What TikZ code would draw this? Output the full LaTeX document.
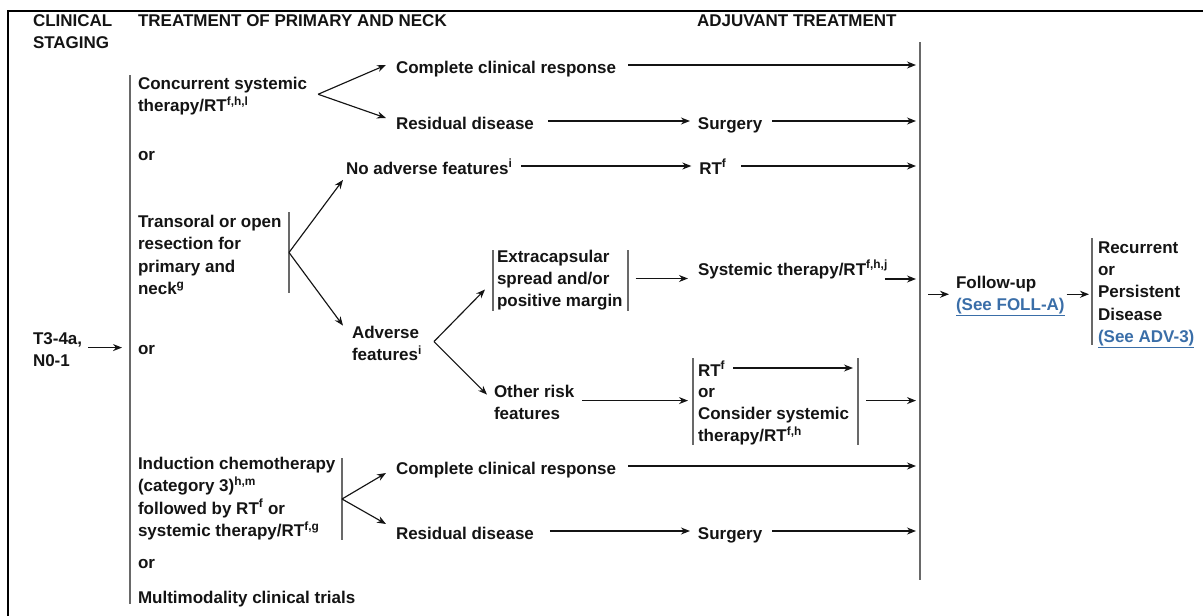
\documentclass[tikz,border=0pt]{standalone}
\usepackage{fontspec}
\setmainfont{Liberation Sans}
\usepackage{tikz}
\definecolor{bargray}{RGB}{105,105,105}
\definecolor{seeblue}{RGB}{58,110,168}
\definecolor{inkblack}{RGB}{20,20,20}
\usetikzlibrary{positioning}
\usetikzlibrary{calc}
\usetikzlibrary{arrows.meta}
\tikzset{bar/.style={draw=bargray,line width=1.5pt}}
\newcommand{\seeRef}[1]{\textcolor{seeblue}{\underline{#1}}}
\newcommand{\topStrut}{\rule{0pt}{15.4pt}}

\begin{document}
\begin{tikzpicture}[x=1pt,y=-1pt,
  myText/.style={inner sep=0pt,outer sep=0pt,text=inkblack,
    font=\bfseries\fontsize{17}{22.4}\selectfont},
  myLine/.style={myText,anchor=west,execute at begin node={\rule[-3.8pt]{0pt}{23.8pt}}},
  myBlock/.style={myText,anchor=north west,align=left},
  myLink/.style={->,>={Stealth[length=9pt,width=7pt]},line width=1.15pt,draw=inkblack}]
	\useasboundingbox (0,0) rectangle (1203,616);
	\draw[line width=2.6pt,line join=miter] (1203,11) -- (8,11) -- (8,616);
	\node[myBlock] (hdStage) at (33,10.6) {\topStrut CLINICAL\\STAGING};
	\node[myLine] (hdTreat) at (138,18) {TREATMENT OF PRIMARY AND NECK};
	\node[myLine] (hdAdj) at (697,18) {ADJUVANT TREATMENT};
	\node[myBlock] (t3) at (33,328.6) {\topStrut T3-4a,\\N0-1};
	\node[myBlock] (conc) at (138,73.6) {\topStrut Concurrent systemic\\therapy/RT\textsuperscript{f,h,l}};
	\node[myLine] (or1) at (138,152) {or};
	\node[myBlock] (trans) at (138,212) {\topStrut Transoral or open\\resection for\\primary and\\neck\textsuperscript{g}};
	\node[myLine] (or2) at (138,346) {or};
	\node[myBlock] (induc) at (138,454) {\topStrut Induction chemotherapy\\(category 3)\textsuperscript{h,m}\\followed by RT\textsuperscript{f} or\\systemic therapy/RT\textsuperscript{f,g}};
	\node[myLine] (or3) at (138,560) {or};
	\node[myLine] (trials) at (138,595) {Multimodality clinical trials};
	\node[myLine] (ccrA) at (396,65) {Complete clinical response};
	\node[myLine] (resA) at (396,121) {Residual disease};
	\node[myLine,right=164pt of resA] (surgA) {Surgery};
	\node[myLine] (noAdv) at (346,166) {No adverse features\textsuperscript{i}};
	\node[myLine,right=187pt of noAdv] (rtA) {RT\textsuperscript{f}};
	\node[myBlock] (adv) at (352,322.6) {\topStrut Adverse\\features\textsuperscript{i}};
	\node[myBlock] (extra) at (497,246.6) {\topStrut Extracapsular\\spread and/or\\positive margin};
	\node[myLine] (sysRT) at (698,267) {Systemic therapy/RT\textsuperscript{f,h,j}};
	\node[myBlock] (other) at (494,381.6) {\topStrut Other risk\\features};
	\node[myLine] (rtB) at (698,368) {RT\textsuperscript{f}};
	\node[myBlock] (consid) at (698,381.6) {\topStrut or\\Consider systemic\\therapy/RT\textsuperscript{f,h}};
	\node[myLine] (ccrB) at (396,466) {Complete clinical response};
	\node[myLine] (resB) at (396,531) {Residual disease};
	\node[myLine,right=164pt of resB] (surgB) {Surgery};
	\node[myBlock] (follow) at (956,272.6) {\topStrut Follow-up\\\seeRef{(See FOLL-A)}};
	\node[myBlock] (recur) at (1098,237.6) {\topStrut Recurrent\\or\\Persistent\\Disease\\\seeRef{(See ADV-3)}};
	\coordinate (optTop) at (130,75);
	\coordinate (optBot) at (130,604);
	\coordinate (transTop) at (289,212);
	\coordinate (transBot) at (289,293);
	\coordinate (inducTop) at (342,458);
	\coordinate (inducBot) at (342,540);
	\coordinate (extraL) at (493,250);
	\coordinate (extraR) at (628,250);
	\coordinate (riskL) at (693,358);
	\coordinate (riskR) at (858,358);
	\coordinate (adjTop) at (920,42);
	\coordinate (adjBot) at (920,580);
	\coordinate (recTop) at (1092,238);
	\coordinate (recBot) at (1092,345);
	\draw[bar,line width=2.2pt] (optTop) -- (optBot);
	\draw[bar] (transTop) -- (transBot);
	\draw[bar] (inducTop) -- (inducBot);
	\draw[bar] (extraL) -- ++(0,61);
	\draw[bar] (extraR) -- ++(0,61);
	\draw[bar] (riskL) -- ++(0,87);
	\draw[bar] (riskR) -- ++(0,87);
	\draw[bar,line width=1.9pt] (adjTop) -- (adjBot);
	\draw[bar] (recTop) -- (recBot);
	\coordinate (forkA) at ([xshift=11pt]conc.east);
	\coordinate (forkB) at ($(transTop)!0.5!(transBot)$);
	\coordinate (forkC) at ([xshift=12pt]adv.east);
	\coordinate (forkD) at ($(inducTop)!0.5!(inducBot)$);
	\draw[myLink,shorten <=6pt,shorten >=8pt] (t3.east) -- (t3.east -| optTop);
	\draw[myLink] (forkA) -- ([xshift=-10pt]ccrA.west);
	\draw[myLink] (forkA) -- ([xshift=-10pt,yshift=3pt]resA.west);
	\draw[myLink] (forkB) -- ([xshift=-3pt,yshift=-2pt]noAdv.south west);
	\draw[myLink] (forkB) -- ([xshift=-9pt,yshift=-3pt]adv.north west);
	\draw[myLink] (forkC) -- ([xshift=-12pt,yshift=-11pt]extra.west);
	\draw[myLink] (forkC) -- ([xshift=-7pt,yshift=6pt]other.west);
	\draw[myLink] (forkD) -- ([xshift=-10pt,yshift=-7pt]ccrB.west);
	\draw[myLink] (forkD) -- ([xshift=-10pt,yshift=7pt]resB.west);
	\draw[myLink,shorten <=12pt,shorten >=4pt] (ccrA.east) -- (ccrA.east -| adjTop);
	\draw[myLink,shorten <=14pt,shorten >=8pt] (resA) -- (surgA);
	\draw[myLink,shorten <=10pt,shorten >=4pt] (surgA.east) -- (surgA.east -| adjTop);
	\draw[myLink,shorten <=9pt,shorten >=8pt] (noAdv) -- (rtA);
	\draw[myLink,shorten <=15pt,shorten >=4pt] (rtA.east) -- (rtA.east -| adjTop);
	\draw[myLink,shorten <=13pt,shorten >=10pt] (extra.east) -- (extra.east -| sysRT.west);
	\draw[myLink,shorten >=4pt] ([xshift=-3pt,yshift=-12pt]sysRT.east) -- ([yshift=-12pt]sysRT.east -| adjTop);
	\draw[myLink,shorten <=8pt,shorten >=10pt] (other.east) -- (other.east -| rtB.west);
	\draw[myLink,shorten <=8pt,shorten >=5pt] (rtB.east) -- (rtB.east -| riskR);
	\draw[myLink,shorten <=8pt,shorten >=4pt] (other.east -| riskR) -- (other.east -| adjTop);
	\draw[myLink,shorten <=12pt,shorten >=4pt] (ccrB.east) -- (ccrB.east -| adjTop);
	\draw[myLink,shorten <=16pt,shorten >=8pt] (resB) -- (surgB);
	\draw[myLink,shorten <=10pt,shorten >=4pt] (surgB.east) -- (surgB.east -| adjTop);
	\draw[myLink,shorten <=8pt,shorten >=7pt] (follow.west -| adjTop) -- (follow.west);
	\draw[myLink,shorten <=2pt,shorten >=3pt] (follow.east) -- (follow.east -| recTop);
\end{tikzpicture}
\end{document}
